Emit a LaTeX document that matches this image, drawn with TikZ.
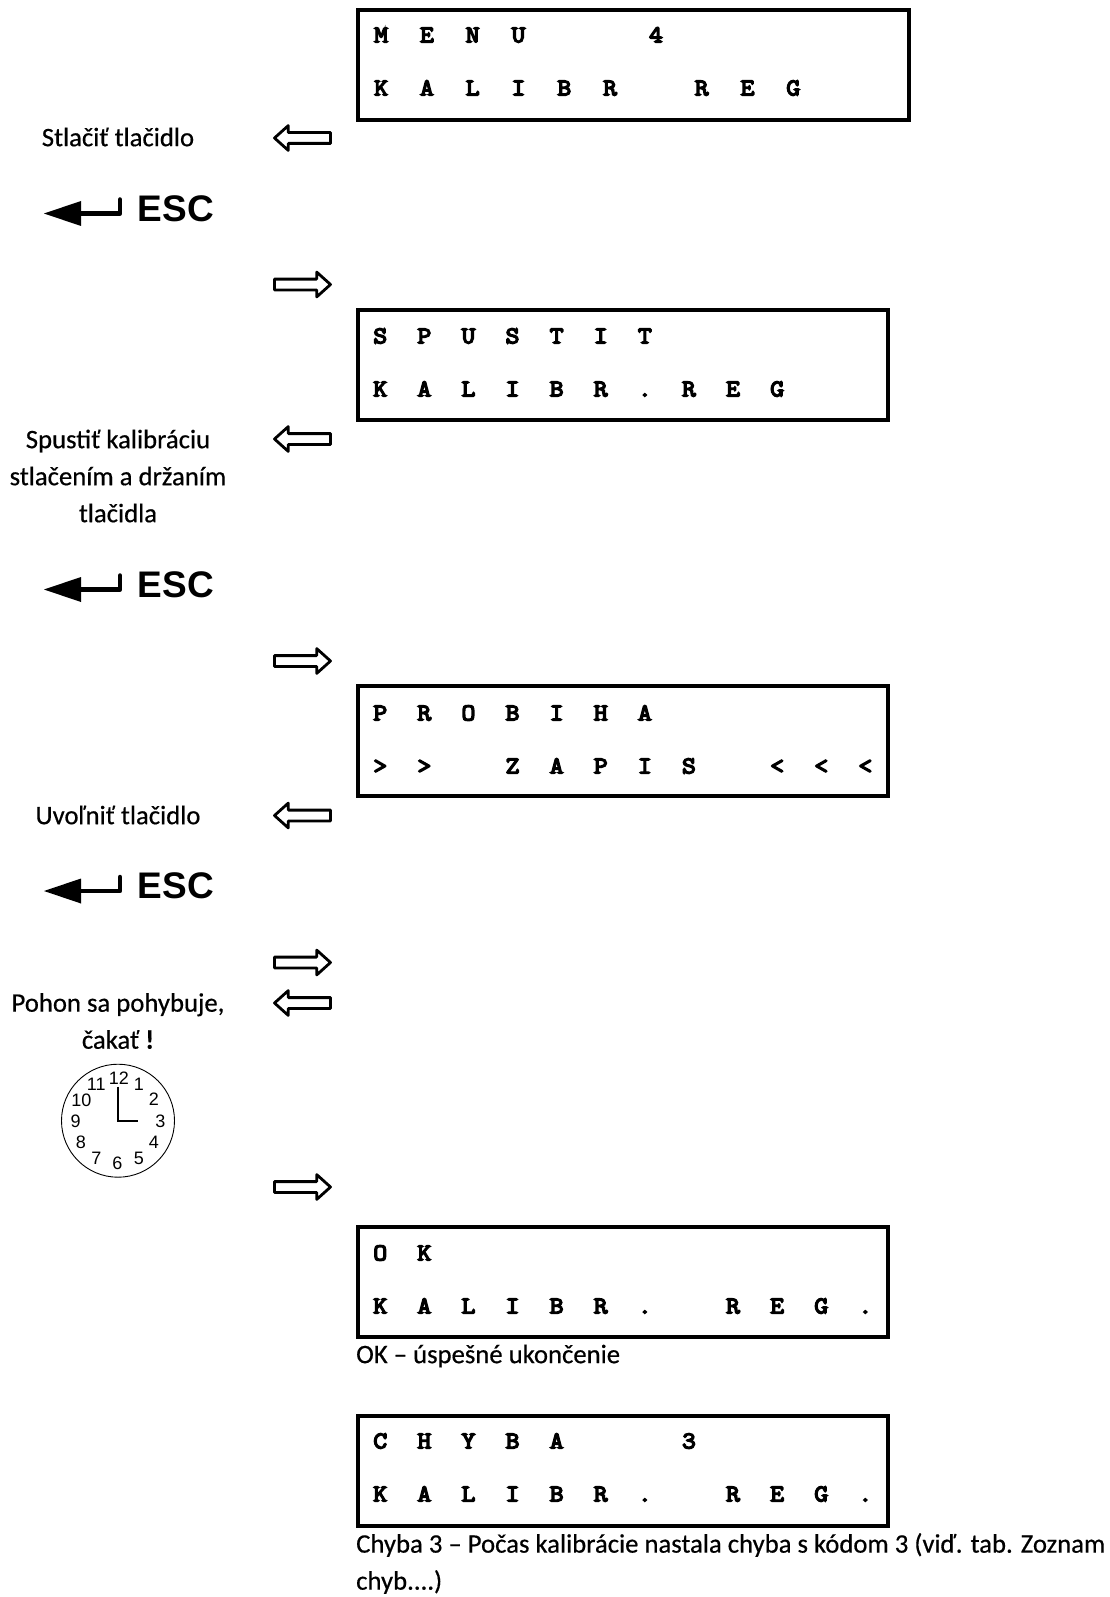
\documentclass[tikz,border=0pt]{standalone}
\usepackage{fontspec}
\setmainfont{Carlito}
\newfontfamily\arialfont{Liberation Sans}
\newfontfamily\hintfont[FakeBold=0.5]{Carlito}
\newfontfamily\lcdfont[FakeBold=6,FakeStretch=1.12]{Latin Modern Mono}
\usetikzlibrary{shapes.arrows}
\tikzset{
  lcdbox/.style={draw,line width=4pt,anchor=north west,minimum height=110pt,inner sep=0pt,outer sep=0pt},
  lcdrow/.style={anchor=west,inner sep=0pt,font=\fontsize{24}{24}\lcdfont},
  rarrow/.style={draw,line width=2.8pt,line join=round,single arrow,single arrow tip angle=84,
    single arrow head extend=7pt,single arrow head indent=0pt,
    minimum height=56pt,inner sep=4pt,outer sep=0pt,xshift=-3.5pt},
  larrow/.style={rarrow,shape border rotate=180,xshift=6pt},
  hint/.style={align=center,inner sep=0pt,font=\fontsize{26.7}{37}\hintfont},
  caption/.style={anchor=west,inner sep=0pt,font=\fontsize{26.7}{37}\hintfont},
  digit/.style={inner sep=0pt,font=\fontsize{18}{18}\arialfont}
}
% one line of the display, one cell per character
\newcommand{\lcdline}[2]{\foreach \ch in {#2} {\makebox[#1pt][c]{\ch}}}
% the key symbol, #1 is its name and #2 its height on the page
\newcommand{\esckey}[2]{
  \coordinate (#1tip) at (44,#2+5);
  \coordinate (#1bend) at (120,#2+5);
  \fill (#1tip) -- ++(37,-12.5) -- ++(0,25) -- cycle;
  \draw[line width=4.5pt,line cap=round,line join=round] (#1tip) ++(30,0) -- (#1bend) -- ++(0,-14);
  \node[inner sep=0pt,font=\fontsize{37}{37}\arialfont\bfseries] (#1) at (176,#2) {ESC};
}
\begin{document}
\begin{tikzpicture}[x=1pt,y=-1pt]
  \useasboundingbox (0,0) rectangle (1110,1597);

  \node[lcdbox,minimum width=551pt] (menubox) at (357.5,10) {};
  \node[lcdrow] (menua) at (358,35) {\lcdline{45.8}{M,E,N,U,,,4}};
  \node[lcdrow] (menub) at (358,88) {\lcdline{45.8}{K,A,L,I,B,R,,R,E,G}};

  \node[lcdbox,minimum width=530pt] (startbox) at (357.5,309.5) {};
  \node[lcdrow] (starta) at (358,336) {\lcdline{44.1}{S,P,U,S,T,I,T}};
  \node[lcdrow] (startb) at (358,389) {\lcdline{44.1}{K,A,L,I,B,R,.,R,E,G}};

  \node[lcdbox,minimum width=530pt] (runbox) at (357.5,686) {};
  \node[lcdrow] (runa) at (358,713) {\lcdline{44.1}{P,R,O,B,I,H,A}};
  \node[lcdrow] (runb) at (358,766) {\lcdline{44.1}{>,>,,Z,A,P,I,S,,<,<,<}};

  \node[lcdbox,minimum width=530pt] (okbox) at (357.5,1227) {};
  \node[lcdrow] (oka) at (358,1253) {\lcdline{44.1}{O,K}};
  \node[lcdrow] (okb) at (358,1306) {\lcdline{44.1}{K,A,L,I,B,R,.,,R,E,G,.}};

  \node[lcdbox,minimum width=530pt] (errbox) at (357.5,1415.5) {};
  \node[lcdrow] (erra) at (358,1441) {\lcdline{44.1}{C,H,Y,B,A,,,3}};
  \node[lcdrow] (errb) at (358,1494) {\lcdline{44.1}{K,A,L,I,B,R,.,,R,E,G,.}};

  \node[larrow] (back1) at (303,138) {};
  \node[rarrow] (next1) at (303,284.5) {};
  \node[larrow] (back2) at (303,439) {};
  \node[rarrow] (next2) at (303,661) {};
  \node[larrow] (back3) at (303,815.5) {};
  \node[rarrow] (next3) at (303,962.5) {};
  \node[larrow] (back4) at (303,1003) {};
  \node[rarrow] (next4) at (303,1187) {};

  \node[hint] (press) at (118,137) {Stlačiť tlačidlo};
  \node[hint] (hold) at (118,476) {Spustiť kalibráciu\\stlačením a držaním\\tlačidla};
  \node[hint] (release) at (118,815) {Uvoľniť tlačidlo};
  \node[hint] (wait) at (118,1021) {Pohon sa pohybuje,\\čakať \textbf{!}};

  \esckey{esca}{208.5}
  \esckey{escb}{584.5}
  \esckey{escc}{886}

  \coordinate (clockc) at (118,1120.7);
  \draw[line width=0.9pt] (clockc) circle (56.5);
  \foreach \n/\a/\b in {12/1/-42.3,1/21/-36.3,2/36/-21.7,3/42.3/0.7,4/36/21.7,5/21/37.3,
    6/-0.7/42.7,7/-21.7/37.3,8/-37/21.7,9/-42.3/0.7,10/-36.7/-20,11/-21.7/-36.3} {
    \node[digit] (hour\n) at (118+\a,1120.7+\b) {\n};
  }
  \coordinate (longhand) at (118,1086.5);
  \coordinate (shorthand) at (138,1120.7);
  \draw[line width=1.8pt] (longhand) -- (clockc) -- (shorthand);

  \node[caption] (okcap) at (356,1356) {OK – úspešné ukončenie};
  \node[caption] (errcap) at (356,1545) {Chyba 3 – Počas kalibrácie nastala chyba s kódom 3 (viď. tab. Zoznam};
  \node[caption] (errcapb) at (356,1582) {chyb....)};
\end{tikzpicture}
\end{document}
